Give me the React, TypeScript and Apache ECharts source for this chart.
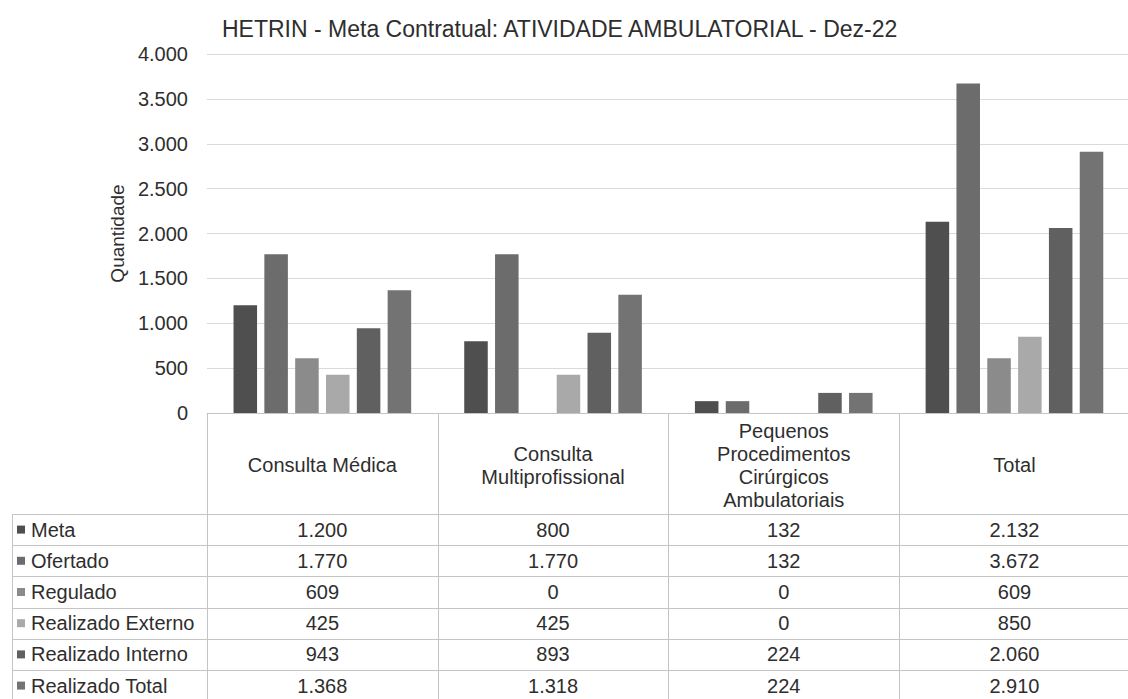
import React, { useEffect, useRef } from "react";
import * as echarts from "echarts";

const titleText = "HETRIN - Meta Contratual: ATIVIDADE AMBULATORIAL - Dez-22";
const categories = [
  "Consulta Médica",
  "Consulta\nMultiprofissional",
  "Pequenos\nProcedimentos\nCirúrgicos\nAmbulatoriais",
  "Total",
];
const seriesNames = [
  "Meta",
  "Ofertado",
  "Regulado",
  "Realizado Externo",
  "Realizado Interno",
  "Realizado Total",
];
const meta = [1200, 800, 132, 2132];
const ofertado = [1770, 1770, 132, 3672];
const regulado = [609, 0, 0, 609];
const realizadoExterno = [425, 425, 0, 850];
const realizadoInterno = [943, 893, 224, 2060];
const realizadoTotal = [1368, 1318, 224, 2910];
const seriesValues = [meta, ofertado, regulado, realizadoExterno, realizadoInterno, realizadoTotal];
const seriesColors = ["#4f4f4f", "#6c6c6c", "#8b8b8b", "#a9a9a9", "#606060", "#737373"];
const yTicks = { min: 0, max: 4000, interval: 500 };

const fmt = (n: number) => String(n).replace(/\B(?=(\d{3})+(?!\d))/g, ".");

const FONT = "'Liberation Sans', Arial, sans-serif";
const TEXT = "#2e2e2e";
const LINE = "#c4c4c4";

// layout
const W = 1128;
const H = 699;
const GRID_LEFT = 207;
const GRID_TOP = 54;
const GRID_H = 359;
const CAT_W = 230.7;
const AXIS_Y = GRID_TOP + GRID_H; // 413
const ROW0 = 514;
const ROW_H = 31.2;
const TABLE_LEFT = 12;

export default function App() {
  const ref = useRef<HTMLDivElement>(null);
  useEffect(() => {
    if (!ref.current) return;
    const chart = echarts.init(ref.current, undefined, { renderer: "svg" });

    const valueAxes = seriesValues.map((vals, k) => ({
      type: "category" as const,
      gridIndex: 0,
      position: "bottom" as const,
      data: categories,
      axisLine: { show: false },
      axisTick: { show: false },
      splitLine: { show: false },
      axisLabel: {
        interval: 0,
        margin: ROW0 + ROW_H * k + ROW_H / 2 - AXIS_Y,
        verticalAlign: "middle",
        fontSize: 20,
        fontFamily: FONT,
        color: TEXT,
        formatter: (_v: string, i: number) => fmt(vals[i]),
      },
    }));

    const graphics: any[] = [];
    // vertical table lines
    for (let c = 0; c < 4; c++) {
      const x = Math.round(GRID_LEFT + CAT_W * c) + 0.5;
      graphics.push({
        type: "line",
        shape: { x1: x, y1: AXIS_Y, x2: x, y2: H },
        style: { stroke: LINE, lineWidth: 1 },
        silent: true,
      });
    }
    graphics.push({
      type: "line",
      shape: { x1: TABLE_LEFT + 0.5, y1: ROW0, x2: TABLE_LEFT + 0.5, y2: H },
      style: { stroke: LINE, lineWidth: 1 },
      silent: true,
    });
    // horizontal row lines
    for (let r = 0; r < seriesNames.length; r++) {
      const y = Math.round(ROW0 + ROW_H * r) + 0.5;
      graphics.push({
        type: "line",
        shape: { x1: TABLE_LEFT, y1: y, x2: W, y2: y },
        style: { stroke: LINE, lineWidth: 1 },
        silent: true,
      });
    }
    // row labels with legend keys
    seriesNames.forEach((name, r) => {
      const cy = ROW0 + ROW_H * r + ROW_H / 2;
      graphics.push({
        type: "rect",
        shape: { x: 17, y: cy - 4, width: 8, height: 8 },
        style: { fill: seriesColors[r] },
        silent: true,
      });
      graphics.push({
        type: "text",
        x: 31,
        y: cy,
        style: {
          text: name,
          fontSize: 20,
          fontFamily: FONT,
          fill: TEXT,
          textVerticalAlign: "middle",
          verticalAlign: "middle",
        },
        silent: true,
      });
    });

    chart.setOption({
      animation: false,
      backgroundColor: "#ffffff",
      title: {
        text: titleText,
        left: 217,
        top: 12,
        textStyle: { fontSize: 23, fontWeight: "normal", fontFamily: FONT, color: TEXT },
      },
      grid: {
        left: GRID_LEFT,
        top: GRID_TOP,
        width: CAT_W * 4,
        height: GRID_H,
        containLabel: false,
        outerBoundsMode: "none",
      },
      yAxis: {
        type: "value",
        min: yTicks.min,
        max: yTicks.max,
        interval: yTicks.interval,
        name: "Quantidade",
        nameLocation: "middle",
        nameRotate: 90,
        nameGap: 80,
        nameTextStyle: { fontSize: 19, fontFamily: FONT, color: TEXT },
        axisLine: { show: false },
        axisTick: { show: false },
        axisLabel: {
          fontSize: 20,
          fontFamily: FONT,
          color: TEXT,
          margin: 19,
          formatter: (v: number) => fmt(v),
        },
        splitLine: { lineStyle: { color: "#dadada", width: 1 } },
      },
      xAxis: [
        {
          type: "category",
          gridIndex: 0,
          position: "bottom",
          data: categories,
          axisLine: { show: true, lineStyle: { color: LINE, width: 1 } },
          axisTick: { show: false },
          splitLine: { show: false },
          axisLabel: {
            interval: 0,
            margin: 52,
            verticalAlign: "middle",
            lineHeight: 23,
            fontSize: 20,
            fontFamily: FONT,
            color: TEXT,
          },
        },
        ...valueAxes,
      ],
      series: seriesNames.map((name, k) => ({
        type: "bar",
        name,
        xAxisIndex: 0,
        yAxisIndex: 0,
        data: seriesValues[k],
        barGap: "31%",
        barCategoryGap: "23%",
        itemStyle: { color: seriesColors[k] },
      })),
      graphic: graphics,
    });

    return () => chart.dispose();
  }, []);

  return (
    <div
      ref={ref}
      style={{ position: "absolute", left: 0, top: 0, width: W, height: H }}
    />
  );
}
